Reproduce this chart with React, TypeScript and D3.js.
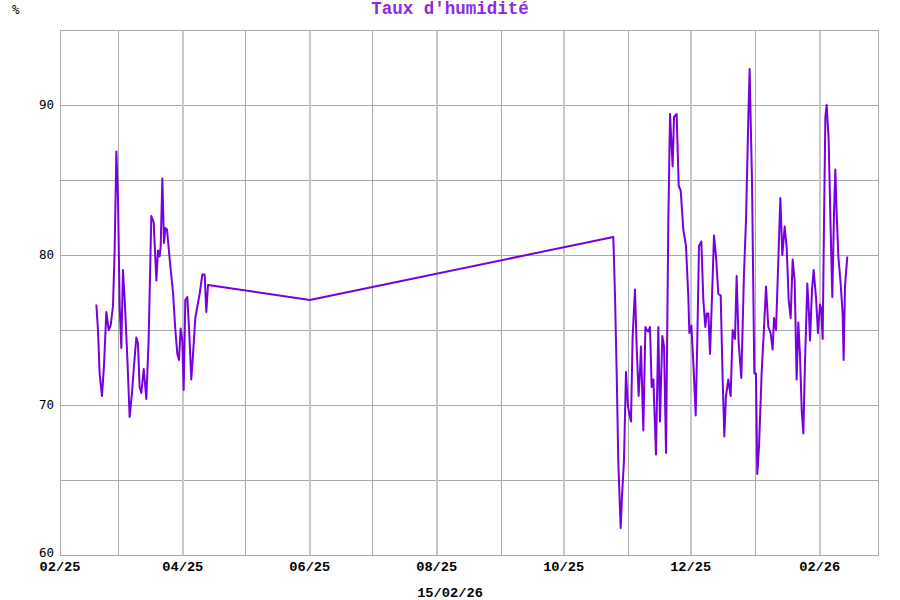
import React from "react";
import * as d3 from "d3";

const W = 900;
const H = 600;
const M = { left: 60, right: 878, top: 30, bottom: 555 };

const title = "Taux d'humidité";
const unitLabel = "%";
const footerLabel = "15/02/26";
const domainStart = "2025-02-01 00";
const domainEnd = "2026-03-01 00";
const yDomain = [60, 95];
const yTickValues = [60, 70, 80, 90];
const yGridValues = [60, 65, 70, 75, 80, 85, 90, 95];

const times = [
  "2025-02-18 11", "2025-02-19 06", "2025-02-20 01", "2025-02-21 04", "2025-02-22 03",
  "2025-02-23 06", "2025-02-24 09", "2025-02-25 08", "2025-02-26 11", "2025-02-27 06",
  "2025-02-28 02", "2025-02-28 21", "2025-03-01 16", "2025-03-02 11", "2025-03-03 06",
  "2025-03-04 02", "2025-03-05 08", "2025-03-06 11", "2025-03-07 14", "2025-03-08 13",
  "2025-03-09 16", "2025-03-10 11", "2025-03-11 06", "2025-03-12 02", "2025-03-13 05",
  "2025-03-13 16", "2025-03-14 11", "2025-03-15 14", "2025-03-16 21", "2025-03-18 00",
  "2025-03-19 07", "2025-03-20 02", "2025-03-20 21", "2025-03-21 09", "2025-03-22 04",
  "2025-03-22 23", "2025-03-23 15", "2025-03-24 10", "2025-03-25 17", "2025-03-27 07",
  "2025-03-28 10", "2025-03-29 09", "2025-03-30 04", "2025-03-30 23", "2025-03-31 18",
  "2025-04-01 10", "2025-04-02 05", "2025-04-03 04", "2025-04-03 23", "2025-04-05 02",
  "2025-04-05 22", "2025-04-07 00", "2025-04-09 02", "2025-04-10 09", "2025-04-11 12",
  "2025-04-12 07", "2025-04-13 03",
  "2025-06-01 00",
  "2025-10-24 20", "2025-10-25 16", "2025-10-26 11", "2025-10-27 06", "2025-10-28 09",
  "2025-10-29 00", "2025-10-29 23", "2025-10-30 22", "2025-10-31 21", "2025-11-02 08",
  "2025-11-03 03", "2025-11-04 06", "2025-11-05 01", "2025-11-06 00", "2025-11-06 16",
  "2025-11-07 03", "2025-11-08 06", "2025-11-09 06", "2025-11-09 21", "2025-11-10 16",
  "2025-11-11 11", "2025-11-12 06", "2025-11-13 02", "2025-11-14 08", "2025-11-15 11",
  "2025-11-16 06", "2025-11-17 09", "2025-11-18 05", "2025-11-19 04", "2025-11-20 06",
  "2025-11-21 02", "2025-11-21 13", "2025-11-22 08", "2025-11-23 00", "2025-11-24 06",
  "2025-11-25 06", "2025-11-26 05", "2025-11-27 11", "2025-11-28 18", "2025-11-29 21",
  "2025-11-30 09", "2025-12-01 08", "2025-12-02 07", "2025-12-03 10", "2025-12-04 05",
  "2025-12-05 00", "2025-12-06 03", "2025-12-07 02", "2025-12-08 01", "2025-12-08 17",
  "2025-12-09 12", "2025-12-10 07", "2025-12-11 06", "2025-12-12 05", "2025-12-13 04",
  "2025-12-14 07", "2025-12-15 10", "2025-12-16 09", "2025-12-17 04", "2025-12-17 23",
  "2025-12-19 02", "2025-12-20 05", "2025-12-21 04", "2025-12-22 07", "2025-12-23 02",
  "2025-12-24 01", "2025-12-25 08", "2025-12-26 15", "2025-12-27 14", "2025-12-28 17",
  "2025-12-29 08", "2025-12-29 20", "2025-12-30 11", "2025-12-31 14", "2026-01-01 09",
  "2026-01-02 00", "2026-01-02 20", "2026-01-04 02", "2026-01-05 06", "2026-01-06 05",
  "2026-01-07 07", "2026-01-08 10", "2026-01-09 09", "2026-01-10 01", "2026-01-11 00",
  "2026-01-12 03", "2026-01-13 02", "2026-01-14 01", "2026-01-15 04", "2026-01-16 03",
  "2026-01-17 02", "2026-01-18 01", "2026-01-19 00", "2026-01-19 23", "2026-01-20 22",
  "2026-01-21 17", "2026-01-22 12", "2026-01-23 08", "2026-01-24 03", "2026-01-24 22",
  "2026-01-26 01", "2026-01-26 20", "2026-01-27 08", "2026-01-28 07", "2026-01-29 02",
  "2026-01-30 05", "2026-01-31 04", "2026-02-01 03", "2026-02-01 18", "2026-02-02 10",
  "2026-02-03 01", "2026-02-03 17", "2026-02-04 08", "2026-02-05 07", "2026-02-06 06",
  "2026-02-07 01", "2026-02-07 21", "2026-02-08 12", "2026-02-09 03", "2026-02-09 23",
  "2026-02-11 01", "2026-02-12 00", "2026-02-12 12", "2026-02-13 03", "2026-02-14 06",
];

const humidity = [
  76.7, 75.0, 72.1, 70.6, 72.6,
  76.2, 75.0, 75.3, 76.6, 80.3,
  86.9, 83.7, 76.6, 73.8, 79.0,
  77.0, 73.2, 69.2, 70.8, 72.6,
  74.5, 74.1, 71.2, 70.8, 72.4,
  71.7, 70.4, 74.3, 82.6, 82.2,
  78.3, 80.3, 79.9, 80.6, 85.1,
  80.8, 81.8, 81.7, 79.7, 77.5,
  75.0, 73.4, 73.0, 75.1, 74.3,
  71.0, 77.0, 77.2, 75.2, 71.7,
  73.4, 75.8, 77.4, 78.7, 78.7,
  76.2, 78.0,
  77.0,
  81.2, 77.2, 72.1, 66.1, 61.8,
  63.9, 66.3, 72.2, 69.9, 68.9,
  74.6, 77.7, 73.9, 70.6, 72.3,
  73.9, 68.3, 75.2, 75.0, 74.9,
  75.2, 71.2, 71.7, 66.7, 75.2,
  68.9, 74.6, 73.9, 66.8, 82.1,
  89.4, 88.1, 85.9, 89.2, 89.4,
  84.6, 84.3, 81.7, 80.6, 77.2,
  74.8, 75.3, 72.8, 69.3, 74.5,
  80.6, 80.9, 77.0, 75.2, 76.1,
  76.1, 73.4, 77.2, 81.3, 79.9,
  77.4, 77.3, 71.7, 67.9, 70.6,
  71.7, 70.6, 75.0, 74.4, 78.6,
  74.2, 71.8, 78.8, 82.3, 89.2,
  92.4, 89.0, 85.0, 72.1, 72.1,
  65.4, 67.2, 72.1, 75.2, 77.9,
  75.2, 74.8, 73.7, 75.8, 75.0,
  79.7, 83.8, 80.0, 81.9, 80.5,
  77.0, 75.8, 79.7, 78.3, 71.7,
  75.5, 73.4, 69.7, 68.1, 72.8,
  78.1, 76.1, 74.3, 77.7, 79.0,
  77.2, 74.8, 76.7, 76.4, 74.4,
  81.9, 89.2, 90.0, 87.7, 81.7,
  77.2, 82.8, 85.7, 82.8, 79.9,
  78.1, 76.1, 73.0, 77.9, 79.9,
];

const parse = d3.timeParse("%Y-%m-%d %H");
const fmtTick = d3.timeFormat("%m/%y");

export default function App() {
  const t0 = parse(domainStart) as Date;
  const t1 = parse(domainEnd) as Date;
  const x = d3.scaleTime().domain([t0, t1]).range([M.left, M.right]);
  const y = d3.scaleLinear().domain(yDomain).range([M.bottom, M.top]);

  const data = times.map((t, i) => ({ t: parse(t) as Date, v: humidity[i] }));
  const line = d3
    .line<{ t: Date; v: number }>()
    .x((d) => x(d.t))
    .y((d) => y(d.v));

  const months = d3.timeMonth.range(t0, t1);
  const lineColor = "#7700e0";
  const gridColor = "#a8a8a8";
  const majorColor = "#c8c8c8";

  return (
    <svg
      width={W}
      height={H}
      style={{ position: "absolute", left: 0, top: 0, background: "#fff" }}
    >
      <rect x={0} y={0} width={W} height={H} fill="#fff" />
      {yGridValues.map((v) => (
        <line
          key={"h" + v}
          x1={M.left}
          x2={M.right}
          y1={Math.round(y(v)) + 0.5}
          y2={Math.round(y(v)) + 0.5}
          stroke={gridColor}
          strokeWidth={1}
        />
      ))}
      {months.map((m, i) => {
        const major = m.getMonth() % 2 === 1;
        const px = Math.round(x(m));
        if (i === 0) return null;
        return (
          <line
            key={"v" + i}
            x1={major ? px : px + 0.5}
            x2={major ? px : px + 0.5}
            y1={M.top}
            y2={M.bottom}
            stroke={major ? majorColor : gridColor}
            strokeWidth={major ? 2 : 1}
          />
        );
      })}
      <rect
        x={M.left + 0.5}
        y={M.top + 0.5}
        width={M.right - M.left}
        height={M.bottom - M.top}
        fill="none"
        stroke={gridColor}
        strokeWidth={1}
      />
      <path
        d={line(data) || ""}
        fill="none"
        stroke={lineColor}
        strokeWidth={2}
        strokeLinejoin="round"
      />
      {yTickValues.map((v, i) => (
        <text
          key={"yl" + v}
          x={54}
          y={y(v) - (i === 0 ? 2 : 0)}
          dy="0.35em"
          textAnchor="end"
          fontFamily="DejaVu Sans Mono"
          fontSize={12.5}
          fill="#000"
        >
          {v}
        </text>
      ))}
      {months
        .filter((m) => m.getMonth() % 2 === 1)
        .map((m, i) => (
          <text
            key={"xl" + i}
            x={x(m)}
            y={571}
            textAnchor="middle"
            fontFamily="Liberation Mono"
            fontWeight="bold"
            fontSize={13.7}
            fill="#000"
          >
            {fmtTick(m)}
          </text>
        ))}
      <text
        x={12}
        y={14}
        fontFamily="DejaVu Sans Mono"
        fontSize={12.5}
        fill="#000"
      >
        {unitLabel}
      </text>
      <text
        x={450}
        y={14}
        textAnchor="middle"
        fontFamily="Liberation Mono"
        fontWeight="bold"
        fontSize={17.5}
        fill="#8a2be2"
      >
        {title}
      </text>
      <text
        x={450}
        y={597}
        textAnchor="middle"
        fontFamily="Liberation Mono"
        fontWeight="bold"
        fontSize={13.7}
        fill="#000"
      >
        {footerLabel}
      </text>
    </svg>
  );
}
